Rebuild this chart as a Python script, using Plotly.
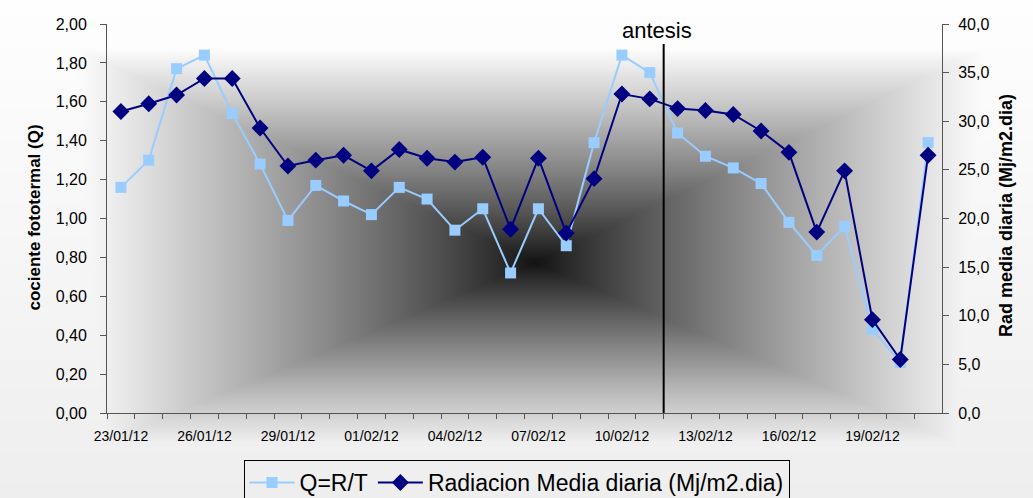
import numpy as np
import plotly.graph_objects as go

# ---------------- data ----------------
dates = ["23/01/12", "24/01/12", "25/01/12", "26/01/12", "27/01/12", "28/01/12",
         "29/01/12", "30/01/12", "31/01/12", "01/02/12", "02/02/12", "03/02/12",
         "04/02/12", "05/02/12", "06/02/12", "07/02/12", "08/02/12", "09/02/12",
         "10/02/12", "11/02/12", "12/02/12", "13/02/12", "14/02/12", "15/02/12",
         "16/02/12", "17/02/12", "18/02/12", "19/02/12", "20/02/12", "21/02/12"]
q_values = [1.16, 1.30, 1.77, 1.84, 1.54, 1.28, 0.99, 1.17, 1.09, 1.02,
            1.16, 1.10, 0.94, 1.05, 0.72, 1.05, 0.86, 1.39, 1.84, 1.75,
            1.44, 1.32, 1.26, 1.18, 0.98, 0.81, 0.96, 0.43, 0.26, 1.39]
rad_values = [31.0, 31.8, 32.7, 34.4, 34.4, 29.3, 25.4, 26.0, 26.5, 24.9,
              27.1, 26.2, 25.8, 26.3, 18.9, 26.2, 18.5, 24.1, 32.8, 32.3,
              31.3, 31.1, 30.7, 29.0, 26.8, 18.6, 24.9, 9.6, 5.5, 26.5]
label_dates = ["23/01/12", "26/01/12", "29/01/12", "01/02/12", "04/02/12",
               "07/02/12", "10/02/12", "13/02/12", "16/02/12", "19/02/12"]
antesis_label = "antesis"
antesis_after = "11/02/12"   # vertical line drawn after this day

W, H = 1033, 498

# ---------------- background gradient (styling) ----------------
gx = np.linspace(0, W, 260)
gy = np.linspace(0, H, 126)
X, Y = np.meshgrid(gx, gy)
cx, cy = 535.0, 262.0
Ll, Lr, Lt, Lb = 440.0, 430.0, 205.0, 185.0
dx = X - cx
dy = Y - cy
tx = np.where(dx > 0, dx / Lr, -dx / Ll)
ty = np.where(dy > 0, dy / Lb, -dy / Lt)
t = np.maximum(tx, ty)
b = 16 + 228 * np.power(t, 0.85)
outer = 254 - 16 * Y / H
b = np.minimum(b, outer)

fig = go.Figure()
fig.add_trace(go.Heatmap(
    x=gx, y=gy, z=b, zmin=0, zmax=255, zsmooth="best",
    colorscale=[[0, "rgb(0,0,0)"], [1, "rgb(255,255,255)"]],
    showscale=False, hoverinfo="skip", xaxis="x", yaxis="y", showlegend=False))

fig.add_trace(go.Scatter(
    x=dates, y=q_values, name="Q=R/T", mode="lines+markers",
    line=dict(color="#99ccff", width=2),
    marker=dict(symbol="square", size=11, color="#99ccff"),
    xaxis="x2", yaxis="y2"))
fig.add_trace(go.Scatter(
    x=dates, y=rad_values, name="Radiacion Media diaria (Mj/m2.dia)",
    mode="lines+markers",
    line=dict(color="#000080", width=2),
    marker=dict(symbol="diamond", size=13, color="#000080"),
    xaxis="x2", yaxis="y3"))

x0, x1 = 107 / W, 942 / W
y0, y1 = (H - 413) / H, (H - 24) / H
axis_col = "#555555"
font = "Liberation Sans, Arial, sans-serif"

ticktext = [d if d in label_dates else "" for d in dates]

fig.update_layout(
    width=W, height=H,
    margin=dict(l=0, r=0, t=0, b=0, autoexpand=False),
    paper_bgcolor="white", plot_bgcolor="rgba(0,0,0,0)",
    separators=",.",
    font=dict(family=font, color="black"),
    xaxis=dict(domain=[0, 1], range=[0, W], visible=False, fixedrange=True),
    yaxis=dict(domain=[0, 1], range=[H, 0], visible=False, fixedrange=True),
    xaxis2=dict(domain=[x0, x1], anchor="y2", type="category",
                categoryorder="array", categoryarray=dates,
                range=[-0.5, len(dates) - 0.5], automargin=False,
                tickmode="array", tickvals=dates, ticktext=ticktext,
                tickangle=0, ticklabelstandoff=10,
                tickson="boundaries", ticks="outside", ticklen=5,
                tickcolor=axis_col, showline=True, linecolor=axis_col,
                linewidth=1, showgrid=False, zeroline=False,
                tickfont=dict(size=14, family=font)),
    yaxis2=dict(domain=[y0, y1], anchor="x2", range=[0, 2], dtick=0.2,
                tickformat=".2f", ticks="outside", ticklen=6,
                ticklabelstandoff=10, automargin=False,
                tickcolor=axis_col, showline=True, linecolor=axis_col,
                linewidth=1, showgrid=False, zeroline=False,
                tickfont=dict(size=16, family=font)),
    yaxis3=dict(domain=[y0, y1], anchor="x2", overlaying="y2", side="right",
                range=[0, 40], dtick=5, tickformat=".1f", ticks="outside",
                ticklen=6, ticklabelstandoff=6, automargin=False,
                tickcolor=axis_col, showline=True,
                linecolor=axis_col, linewidth=1, showgrid=False,
                zeroline=False, tickfont=dict(size=16, family=font)),
    legend=dict(orientation="h", x=0.5, xanchor="center", y=(H - 460) / H,
                yanchor="top", bgcolor="rgba(0,0,0,0)", bordercolor="black",
                borderwidth=1, font=dict(size=23, family=font),
                itemwidth=45, traceorder="normal"),
    showlegend=True,
)

ant_idx = dates.index(antesis_after) + 0.5
fig.add_shape(type="line", xref="x2", yref="y2", x0=ant_idx, x1=ant_idx,
              y0=0, y1=1.897, line=dict(color="black", width=2))

fig.add_annotation(text=antesis_label, xref="paper", yref="paper",
                   x=657 / W, y=(H - 16) / H, showarrow=False,
                   font=dict(size=22, family=font, color="black"))
fig.add_annotation(text="<b>cociente fototermal (Q)</b>", xref="paper",
                   yref="paper", x=22 / W, y=(H - 218) / H, showarrow=False,
                   textangle=-90, font=dict(size=17, family=font))
fig.add_annotation(text="<b>Rad media diaria (Mj/m2.dia)</b>", xref="paper",
                   yref="paper", x=1018 / W, y=(H - 216) / H, showarrow=False,
                   textangle=-90, font=dict(size=18, family=font))

fig.write_html("out.html")
